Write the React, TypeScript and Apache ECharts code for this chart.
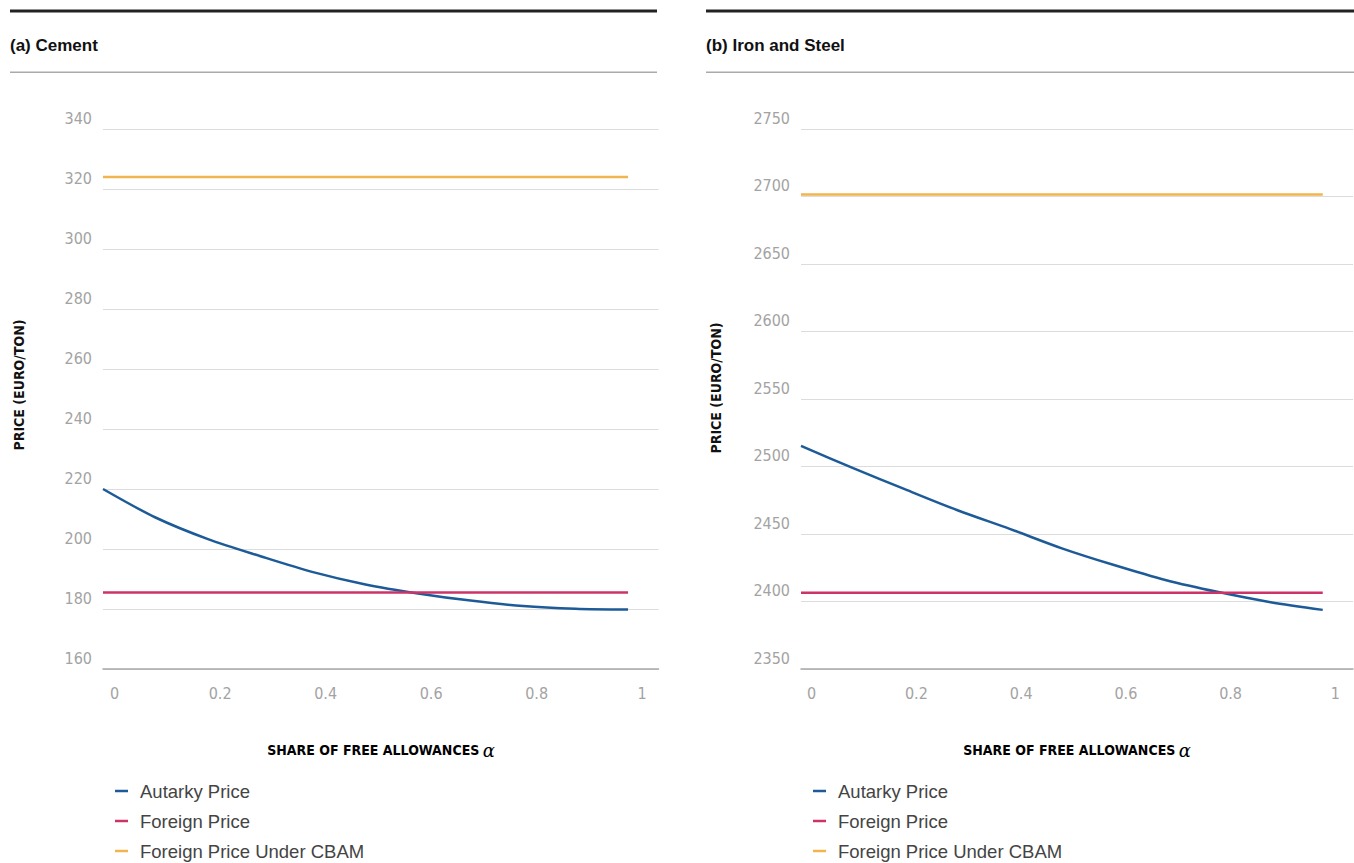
import React, { useEffect, useRef } from "react";
import * as echarts from "echarts";

const alpha = [0, 0.1, 0.2, 0.3, 0.4, 0.5, 0.6, 0.7, 0.8, 0.9, 1];
const cementAutarky = [220, 210.5, 203.3, 197.6, 192.3, 188.2, 185.2, 182.8, 181.0, 180.1, 179.8];
const cementForeign = [185.5, 185.5];
const cementCBAM = [324, 324];
const steelAutarky = [2515.3, 2498.8, 2483.0, 2467.6, 2453.8, 2439.4, 2427.0, 2415.8, 2407.0, 2399.5, 2393.8];
const steelForeign = [2406.5, 2406.5];
const steelCBAM = [2701.5, 2701.5];
const flatAlpha = [0, 1];
const xTickLabels = [0, 0.2, 0.4, 0.6, 0.8, 1];
const cementY = { min: 160, max: 340, interval: 20 };
const steelY = { min: 2350, max: 2750, interval: 50 };
const seriesNames = ["Autarky Price", "Foreign Price", "Foreign Price Under CBAM"];
const colors = ["#1d5b98", "#cc3366", "#f2b44c"];
const panelTitles = ["(a) Cement", "(b) Iron and Steel"];
const yTitle = "PRICE (EURO/TON)";
const xTitle = "SHARE OF FREE ALLOWANCES";

const narrow = "'Liberation Sans Narrow', 'DejaVu Sans Condensed', 'Roboto', sans-serif";
const sans = "'Liberation Sans', Arial, sans-serif";

export default function App() {
  const ref = useRef<HTMLDivElement>(null);
  useEffect(() => {
    document.body.style.margin = "0";
    const chart = echarts.init(ref.current!, null, { renderer: "svg" });

    const panels = [
      { left: 103, width: 555.5, dataMax: 1.058, labMin: -0.022, labMax: 1.031, y: cementY, aut: cementAutarky, fr: cementForeign, cb: cementCBAM, hx: 10, hw: 647, xt: 381, yt: 19, yc: 385, lx: 115 },
      { left: 801, width: 552, dataMax: 1.058, labMin: -0.0204, labMax: 1.0338, y: steelY, aut: steelAutarky, fr: steelForeign, cb: steelCBAM, hx: 706, hw: 648, xt: 1077, yt: 716, yc: 388, lx: 813 },
    ];

    const grid: any[] = [];
    const xAxis: any[] = [];
    const yAxis: any[] = [];
    const series: any[] = [];
    const legend: any[] = [];
    const graphic: any[] = [];

    panels.forEach((p, i) => {
      grid.push({ left: p.left, top: 129, width: p.width, height: 540 });
      xAxis.push({
        type: "value", gridIndex: i, min: 0, max: p.dataMax, position: "bottom",
        axisLine: { show: true, lineStyle: { color: "#a8a8a8", width: 1.5 } },
        axisTick: { show: false }, axisLabel: { show: false }, splitLine: { show: false },
      });
      xAxis.push({
        type: "value", gridIndex: i, min: p.labMin, max: p.labMax, position: "bottom",
        axisLine: { show: false }, axisTick: { show: false }, splitLine: { show: false },
        axisLabel: {
          show: true, customValues: xTickLabels, margin: 16,
          color: "#a3a3a3", fontSize: 16, fontFamily: narrow,
          formatter: (v: number) => String(Math.round(v * 10) / 10),
        },
      });
      yAxis.push({
        type: "value", gridIndex: i, min: p.y.min, max: p.y.max, interval: p.y.interval,
        axisLine: { show: false }, axisTick: { show: false },
        splitLine: { show: true, lineStyle: { color: "#dcdcdc", width: 1 } },
        axisLabel: {
          color: "#a3a3a3", fontSize: 16, fontFamily: narrow, margin: 11,
          verticalAlign: "bottom", padding: [0, 0, 3, 0],
          formatter: (v: number) => String(v),
        },
      });
      const xi = i * 2;
      series.push({
        name: seriesNames[0], type: "line", xAxisIndex: xi, yAxisIndex: i,
        data: alpha.map((a, k) => [a, p.aut[k]]), smooth: 0.3, showSymbol: false,
        lineStyle: { color: colors[0], width: 2.5 }, itemStyle: { color: colors[0] },
      });
      series.push({
        name: seriesNames[1], type: "line", xAxisIndex: xi, yAxisIndex: i,
        data: flatAlpha.map((a, k) => [a, p.fr[k]]), showSymbol: false,
        lineStyle: { color: colors[1], width: 2.5 }, itemStyle: { color: colors[1] },
      });
      series.push({
        name: seriesNames[2], type: "line", xAxisIndex: xi, yAxisIndex: i,
        data: flatAlpha.map((a, k) => [a, p.cb[k]]), showSymbol: false,
        lineStyle: { color: colors[2], width: 2.5 }, itemStyle: { color: colors[2] },
      });
      legend.push({
        data: seriesNames, orient: "vertical", left: p.lx, top: 781, itemGap: 10, padding: 0,
        icon: "rect", itemWidth: 13, itemHeight: 2.5, selectedMode: false,
        textStyle: { color: "#444", fontSize: 18.5, fontFamily: sans, lineHeight: 20, padding: [0, 0, 0, 7] },
      });
      graphic.push(
        { type: "rect", shape: { x: p.hx, y: 9.5, width: p.hw, height: 3 }, style: { fill: "#222" } },
        { type: "rect", shape: { x: p.hx, y: 71.5, width: p.hw, height: 1.5 }, style: { fill: "#aaa" } },
        {
          type: "text", x: p.hx, y: 45,
          style: { text: panelTitles[i], fill: "#111", font: `bold 17px ${sans}`, textVerticalAlign: "middle" },
        },
        {
          type: "text", x: p.yt, y: p.yc, rotation: Math.PI / 2,
          style: { text: yTitle, fill: "#111", font: `bold 14px ${narrow}`, textAlign: "center", textVerticalAlign: "middle" },
        },
        {
          type: "text", x: p.xt, y: 750,
          style: {
            text: `{a|${xTitle}} {b|α}`, textAlign: "center", textVerticalAlign: "middle",
            rich: {
              a: { fontFamily: narrow, fontWeight: "bold", fontSize: 14, color: "#111" },
              b: { fontFamily: "'DejaVu Serif', 'Liberation Serif', serif", fontStyle: "italic", fontSize: 18, color: "#111" },
            },
          },
        }
      );
    });

    chart.setOption({ animation: false, grid, xAxis, yAxis, series, legend, graphic });
    return () => chart.dispose();
  }, []);
  return <div ref={ref} style={{ width: 1354, height: 863 }} />;
}
